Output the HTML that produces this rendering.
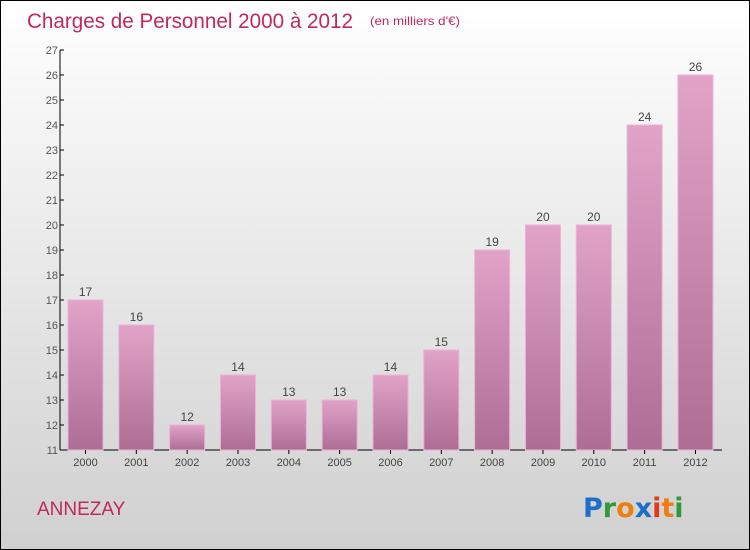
<!DOCTYPE html>
<html><head><meta charset="utf-8"><style>
body{margin:0}
#c{position:relative;width:748px;height:548px;border:1px solid #000;background:linear-gradient(#fff,#d0d0d0);font-family:"Liberation Sans",sans-serif;overflow:hidden}
</style></head><body>
<div id="c">
<svg width="748" height="548" id="s">
<defs><linearGradient id="bg" x1="0" y1="0" x2="0" y2="1"><stop offset="0" stop-color="#e2a3c9"/><stop offset="1" stop-color="#ad6d95"/></linearGradient></defs>
<text x="26" y="27" font-size="21" fill="#c0285e" textLength="326" lengthAdjust="spacingAndGlyphs">Charges de Personnel 2000 à 2012</text>
<text x="369" y="24" font-size="12" fill="#c0285e" textLength="90" lengthAdjust="spacingAndGlyphs">(en milliers d'€)</text>
<text x="36" y="514" font-size="19" fill="#c0285e">ANNEZAY</text>
<g font-size="27" font-weight="bold" font-family="'DejaVu Sans',sans-serif">
<text x="582" y="516"><tspan fill="#1b6fc8">P</tspan><tspan fill="#2e9a3a">r</tspan><tspan fill="#f07d10">o</tspan><tspan fill="#1b6fc8">x</tspan><tspan fill="#e03a1a">i</tspan><tspan fill="#f07d10">t</tspan><tspan fill="#2e9a3a">i</tspan></text></g>
<g id="plot"></g>
</svg></div>
<script>
const years=["2000","2001","2002","2003","2004","2005","2006","2007","2008","2009","2010","2011","2012"];
const values=[17,16,12,14,13,13,14,15,19,20,20,24,26];
const yTicks=[11,12,13,14,15,16,17,18,19,20,21,22,23,24,25,26,27];
const NS="http://www.w3.org/2000/svg";
const g=document.getElementById('plot');
const y0=449,yTop=49,vmin=11,vmax=27;
const y=v=>y0-(v-vmin)*(y0-yTop)/(vmax-vmin);
const x=i=>84.5+i*50.83;
function mk(t,a){const e=document.createElementNS(NS,t);for(const k in a)e.setAttribute(k,a[k]);g.appendChild(e);return e;}
let ax=mk('line',{x1:59,y1:yTop,x2:59,y2:y0,stroke:'#000'});


let xa=mk('line',{x1:59,y1:y0,x2:721,y2:y0,stroke:'#000'});


yTicks.forEach(v=>{
 const tk=mk('line',{x1:59,y1:y(v),x2:63,y2:y(v),stroke:'#000'});
 
 
 const t=mk('text',{x:57,y:y(v)+4,'font-size':11,fill:'#555','text-anchor':'end'});
 t.textContent=v;
 
 
});
years.forEach((yr,i)=>{
 const cx=x(i),v=values[i];
 const r=mk('rect',{x:cx-17.5,y:y(v),width:35,height:y0-y(v),fill:'url(#bg)',stroke:'#eab3d4','stroke-width':1});
 
 
 const l=mk('text',{x:cx,y:y(v)-4,'font-size':12,fill:'#444','text-anchor':'middle'});
 l.textContent=v;
 
 
 const tk=mk('line',{x1:cx,y1:y0,x2:cx,y2:y0+4,stroke:'#000'});
 
 
 const t=mk('text',{x:cx,y:y0+16,'font-size':11,fill:'#444','text-anchor':'middle'});
 t.textContent=yr;
 
 
});
</script>
</body></html>
